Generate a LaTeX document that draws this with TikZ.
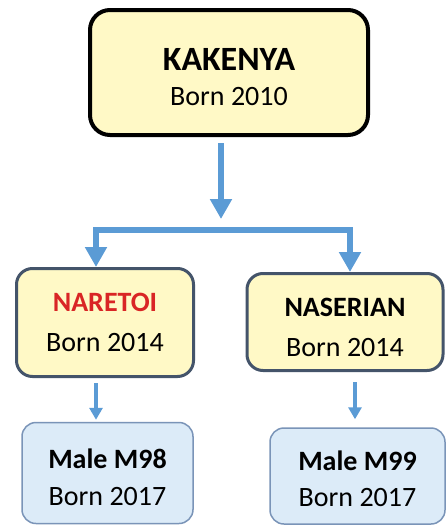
\documentclass[tikz,border=0pt]{standalone}
\usepackage{fontspec}
\setmainfont{Carlito}
\usepackage{xcolor}
\usetikzlibrary{arrows.meta,calc}

\definecolor{boxyellow}{HTML}{FFF9C6}
\definecolor{boxblue}{HTML}{DCEBF8}
\definecolor{arrowblue}{HTML}{5B9BD5}
\definecolor{slateline}{HTML}{44546A}
\definecolor{blueline}{HTML}{7A94B8}
\definecolor{namered}{HTML}{D92525}
\newcommand{\toppad}[1]{\rule{0pt}{#1}}

\begin{document}
\begin{tikzpicture}[x=1pt, y=-1pt,
    parent/.style={draw=black, line width=4pt, fill=boxyellow, rounded corners=20pt,
      inner sep=0pt, align=center, minimum width=278pt, minimum height=125pt,
      font=\fontsize{28}{34}\selectfont},
    child/.style={draw=slateline, line width=3pt, fill=boxyellow, rounded corners=16pt,
      inner sep=0pt, align=center, font=\fontsize{28}{34}\selectfont},
    calf/.style={draw=blueline, line width=1.5pt, fill=boxblue, rounded corners=14pt,
      inner sep=0pt, align=center, font=\fontsize{28}{34}\selectfont},
    bigarrow/.style={draw=arrowblue, line width=6pt, -{Triangle[width=21pt,length=20pt]}},
    smallarrow/.style={draw=arrowblue, line width=4pt, -{Triangle[width=13pt,length=12pt]}}]
  \useasboundingbox[fill=white] (0,0) rectangle (446,525);

  \node[parent] (kakenya) at (229,72.5)
    {\toppad{32pt}{\bfseries\fontsize{34}{40}\selectfont KAKENYA}\\[1pt]Born 2010};
  \node[child, minimum width=177pt, minimum height=108pt] (naretoi) at (105,322.5)
    {\textbf{\textcolor{namered}{NARETOI}}\\[6pt]Born 2014};
  \node[child, minimum width=196pt, minimum height=97pt] (naserian) at (345,322)
    {\toppad{30pt}\textbf{NASERIAN}\\[6pt]Born 2014};
  \node[calf, minimum width=171pt, minimum height=101pt] (m98) at (107.5,473)
    {\toppad{28.5pt}\textbf{Male M98}\\[3pt]Born 2017};
  \node[calf, minimum width=175pt, minimum height=96pt] (m99) at (357.5,476)
    {\toppad{25.5pt}\textbf{Male M99}\\[2pt]Born 2017};

  \coordinate (split) at (221,219);
  \coordinate (lft) at (96,230);
  \coordinate (rgt) at (350,230);
  \coordinate (rgtsmall) at (355,0);
  \draw[bigarrow, shorten <=6pt] (kakenya.south -| split) -- (split);
  \draw[bigarrow, {Triangle[width=21pt,length=20pt]}-{Triangle[width=21pt,length=20pt]}]
    (lft |- naretoi.north) -- (lft) -- (rgt) -- (rgt |- naserian.north);
  \draw[smallarrow, shorten <=5pt, shorten >=2pt] (naretoi.south -| lft) -- (m98.north -| lft);
  \draw[smallarrow, shorten <=10pt, shorten >=8pt] (naserian.south -| rgtsmall) -- (m99.north -| rgtsmall);
\end{tikzpicture}
\end{document}
